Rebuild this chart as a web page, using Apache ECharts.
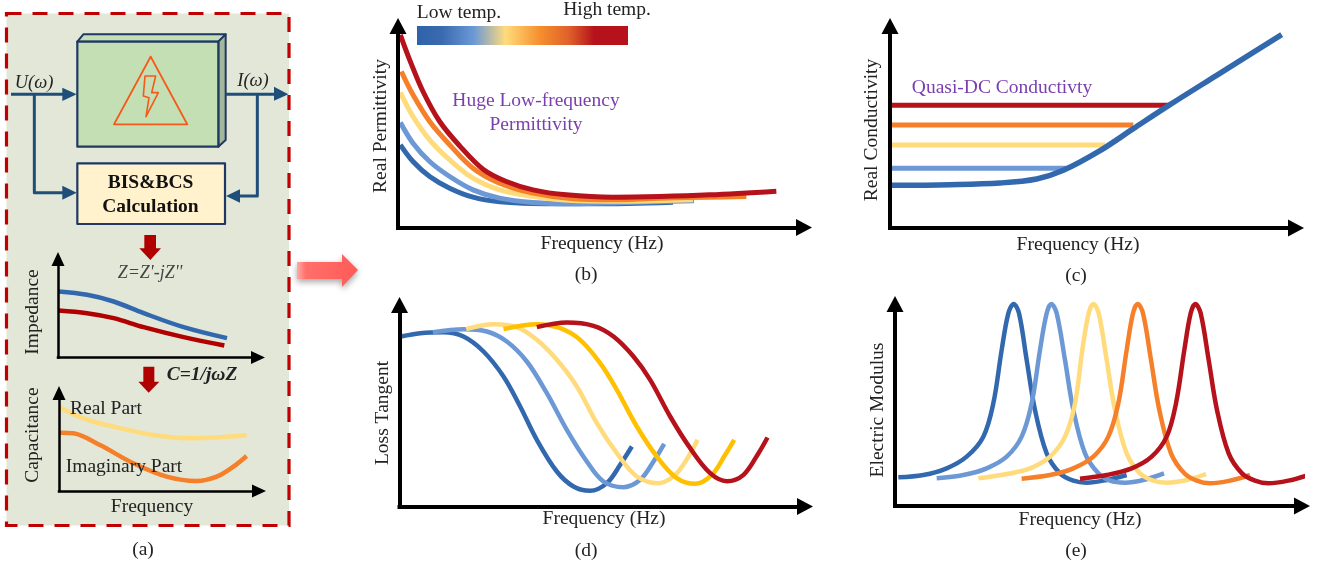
<!DOCTYPE html>
<html><head><meta charset="utf-8">
<style>html,body{margin:0;padding:0;background:#fff}#c{width:1317px;height:568px}</style>
<script src="https://cdn.jsdelivr.net/npm/echarts@6/dist/echarts.min.js"></script>
</head><body><div id="c"></div>
<script>
// ---- data: schematic curves, [frequency, response] in arbitrary units ----
const impedanceBlue=[[2,198],[87,188],[167,168],[257,133],[377,91],[507,58]];
const impedanceRed=[[2,141],[87,133],[167,118],[257,91],[377,61],[499,36]];
const capReal=[[0,253],[73,218],[163,193],[283,168],[403,158],[563,167]];
const capImag=[[3,175],[43,173],[123,138],[223,83],[323,43],[413,30],[473,43],[523,73],[563,105]];

const permRed=[[7,578],[35,503],[75,408],[125,318],[185,245],[255,175],[325,138],[405,113],[505,98],[645,91],[785,93],[935,98],[1135,109]];
const permOrange=[[10,468],[45,398],[95,318],[155,248],[225,178],[305,133],[405,103],[525,86],[645,83],[785,88],[935,91],[1045,93]];
const permYellow=[[7,405],[45,333],[95,263],[155,203],[225,148],[305,113],[405,93],[525,81],[685,79],[885,83]];
const permLight=[[7,315],[45,253],[95,198],[155,153],[225,113],[305,88],[405,75],[525,71],[685,75],[888,80]];
const permBlue=[[7,248],[45,198],[95,153],[155,118],[225,91],[305,77],[405,72],[585,71],[825,76]];

const condRed=[[5,368],[840,368]];
const condOrange=[[5,309],[730,309]];
const condYellow=[[5,249],[645,249]];
const condLight=[[5,179],[530,179]];
const condBlue=[[5,128],[180,130],[330,135],[440,147],[520,173],[630,232],[730,298],[840,370],[980,458],[1175,580]];

const lossBlue=[[4,510],[62,520],[132,523],[192,510],[252,465],[312,390],[362,300],[412,200],[472,105],[522,60],[572,47],[622,70],[662,125],[697,180]];
const lossLight=[[100,523],[192,532],[262,525],[322,495],[382,435],[442,340],[502,230],[562,135],[612,75],[672,58],[722,80],[762,135],[794,188]];
const lossYellow=[[200,532],[282,547],[352,538],[412,500],[472,440],[532,360],[592,250],[652,160],[712,90],[777,70],[827,95],[867,150],[894,200]];
const lossGold=[[312,532],[412,547],[482,535],[542,500],[602,430],[652,350],[712,240],[772,150],[832,85],[887,68],[937,95],[977,155],[1004,200]];
const lossRed=[[412,538],[502,552],[582,542],[642,510],[702,450],[752,380],[812,270],[872,175],[932,100],[982,76],[1032,95],[1077,160],[1104,207]];

const modBlue=[[10,86],[85,93],[155,113],[215,148],[265,208],[295,308],[320,468],[340,578],[356,606],[372,578],[395,438],[420,288],[455,158],[495,98],[535,76],[575,70],[635,78],[695,93]];
const modLight=[[125,83],[205,93],[275,113],[335,148],[380,208],[410,308],[435,468],[455,578],[469,606],[485,578],[510,438],[535,288],[570,158],[610,98],[645,76],[690,70],[745,78],[807,98]];
const modYellow=[[250,83],[335,96],[405,113],[465,148],[510,208],[540,308],[562,468],[581,578],[595,606],[611,578],[635,438],[660,288],[695,158],[735,98],[775,76],[815,70],[875,78],[933,96]];
const modOrange=[[380,82],[465,93],[535,113],[595,148],[640,208],[670,308],[695,468],[714,578],[728,606],[744,578],[768,438],[793,288],[828,158],[868,98],[905,76],[945,68],[1005,76],[1065,93]];
const modRed=[[555,82],[635,93],[710,113],[770,148],[815,208],[843,308],[868,468],[887,578],[901,606],[917,578],[941,438],[966,288],[1001,158],[1041,98],[1080,76],[1120,68],[1180,76],[1240,93]];

// ---- styling ----
const SERIF='"Liberation Serif","Times New Roman",serif';
const BLUE='#3268ad',LIGHT='#6c99d6',YEL='#ffdb7c',ORG='#f6802a',RED='#b5121b',GOLD='#ffc000';
const NAVY='#1f3864',ARW='#1f4e79',PURPLE='#7a3fae',DKRED='#b00000';
const FS=19.5;

const panels=[
 {ox:58,oy:357.5,tx:265,ty:252,aw:2.5,as:[13,14],xn:null,yn:['Impedance',33,312],
  s:[[impedanceBlue,BLUE,4.5],[impedanceRed,DKRED,4.5]]},
 {ox:59,oy:491,tx:266,ty:386,aw:2.5,as:[13,14],xn:['Frequency',152,507],yn:['Capacitance',33,435],
  s:[[capReal,YEL,4.5],[capImag,ORG,4.5]]},
 {ox:398,oy:227.5,tx:812,ty:18,aw:4,as:[17,16],xn:['Frequency (Hz)',602,244],yn:['Real Permittivity',381,126],
  s:[[permBlue,BLUE,5],[permLight,LIGHT,5],[permYellow,YEL,5],[permOrange,ORG,5],[permRed,RED,5]]},
 {ox:890,oy:228,tx:1304,ty:18,aw:4,as:[17,16],xn:['Frequency (Hz)',1078,245],yn:['Real Conductivity',872,130],
  s:[[condRed,RED,5],[condOrange,ORG,5],[condYellow,YEL,5],[condLight,LIGHT,5],[condBlue,BLUE,5.5]]},
 {ox:399.5,oy:506.5,tx:813,ty:297,aw:4,as:[17,16],xn:['Frequency (Hz)',604,519],yn:['Loss Tangent',383,413],
  s:[[lossBlue,BLUE,4.5],[lossLight,LIGHT,4.5],[lossYellow,YEL,4.5],[lossGold,GOLD,4.5],[lossRed,RED,4.5]]},
 {ox:895,oy:506,tx:1310,ty:296,aw:4,as:[17,16],xn:['Frequency (Hz)',1080,520],yn:['Electric Modulus',878,410],
  s:[[modBlue,BLUE,4.5],[modLight,LIGHT,4.5],[modYellow,YEL,4.5],[modOrange,ORG,4.5],[modRed,RED,4.5]]}
];

const grids=[],xAxes=[],yAxes=[],series=[];
panels.forEach((p,i)=>{
  const endX=p.tx-p.as[1]/2, endY=p.ty+p.as[1]/2;
  const w=endX-p.ox,h=p.oy-endY;
  grids.push({left:p.ox,top:endY,width:w,height:h});
  const line={onZero:false,symbol:['none','triangle'],symbolSize:p.as,lineStyle:{color:'#000',width:p.aw,cap:'square'}};
  const base={type:'value',gridIndex:i,axisLine:line,axisTick:{show:false},axisLabel:{show:false},splitLine:{show:false},z:5};
  const nameStyle=(pad)=>({fontFamily:SERIF,fontSize:FS,color:'#222',padding:pad});
  const xa=Object.assign({},base,{min:0,max:w*3,position:'bottom'});
  if(p.xn){
    const d=p.xn[1]-(p.ox+w/2);
    xa.name=p.xn[0];xa.nameLocation='middle';xa.nameGap=p.xn[2]-p.oy-FS/2;
    xa.nameTextStyle=nameStyle(d<0?[0,-2*d,0,0]:[0,0,0,2*d]);
  }
  const ya=Object.assign({},base,{min:0,max:h*3,position:'left'});
  const d=p.yn[2]-(endY+h/2);
  ya.name=p.yn[0];ya.nameLocation='middle';ya.nameGap=p.ox-p.yn[1]-FS/2;
  ya.nameTextStyle=nameStyle(d<0?[0,0,0,-2*d]:[0,2*d,0,0]);
  xAxes.push(xa);yAxes.push(ya);
  p.s.forEach(([data,color,width])=>series.push({type:'line',xAxisIndex:i,yAxisIndex:i,data,smooth:0.35,showSymbol:false,clip:false,
    lineStyle:{color,width,cap:'butt'},emphasis:{disabled:true},animation:false,z:3}));
});

// ---- schematic shapes & annotation text (pixel positions of the figure) ----
const g=[];
const poly=(pts,fill,stroke,lw,z)=>g.push({type:'polygon',z:z||1,shape:{points:pts.map(q=>[q[0]/3,q[1]/3])},style:{fill:fill||'none',stroke:stroke||'none',lineWidth:lw||0,lineJoin:'round'}});
const pl=(pts,color,lw)=>g.push({type:'polyline',z:1,shape:{points:pts.map(q=>[q[0]/3,q[1]/3])},style:{fill:'none',stroke:color,lineWidth:lw,lineJoin:'round'}});
const txt=(t,x,y,font,fill,z)=>g.push({type:'text',z:z||6,x:x,y:y,style:{text:t,x:0,y:0,align:'center',verticalAlign:'middle',font:font,fill:fill||'#222'}});

// panel (a) background
g.push({type:'rect',z:-2,shape:{x:6.5,y:13.5,width:282.5,height:512},style:{fill:'#e2e7d8',stroke:'#c00000',lineWidth:3.2,lineDash:[15,11]}});
// 3D box
poly([[232,125],[250,103],[677,103],[655,125]],'#c5dfb4',NAVY,2);
poly([[655,125],[677,103],[677,420],[655,440]],'#a3b89a',NAVY,2);
poly([[232,125],[655,125],[655,440],[232,440]],'#c5dfb4',NAVY,2.2);
// warning sign
poly([[452,170],[562,373],[342,373]],'none','#f5591a',1.9);
poly([[435,228],[467,228],[455,278],[475,278],[438,350],[447,293],[430,288]],'none','#f5591a',1.6);
// calc box
poly([[232,490],[675,490],[675,672],[232,672]],'#fff2cc',NAVY,2.2);
// signal lines
pl([[33,283],[195,283]],ARW,3);
poly([[187,263],[230,283],[187,303]],ARW);
pl([[103,283],[103,578],[195,578]],ARW,3);
poly([[187,557],[230,578],[187,599]],ARW);
pl([[677,283],[830,283]],ARW,3);
poly([[822,260],[865,283],[822,302]],ARW);
pl([[772,283],[772,588],[715,588]],ARW,3);
poly([[720,568],[678,588],[720,608]],ARW);
// red down arrows
poly([[433,705],[468,705],[468,745],[483,745],[451,780],[418,745],[433,745]],DKRED);
poly([[430,1100],[463,1100],[463,1145],[478,1145],[446,1178],[415,1145],[430,1145]],DKRED);
// big arrow between panels
g.push({type:'polygon',z:1,shape:{points:[[297,262],[342,262],[342,254],[358,270],[342,287],[342,279],[297,279]]},
  style:{fill:new echarts.graphic.LinearGradient(0,0,1,0,[{offset:0,color:'#ffa9a5'},{offset:0.15,color:'#ff6f6a'},{offset:1,color:'#ff5b57'}]),
  shadowBlur:6,shadowColor:'rgba(0,0,0,0.35)',shadowOffsetY:3}});
// temperature bar
g.push({type:'rect',z:1,shape:{x:417,y:26,width:211,height:19},style:{fill:new echarts.graphic.LinearGradient(0,0,1,0,[
 {offset:0,color:'#2f62aa'},{offset:0.12,color:'#3a6bb0'},{offset:0.27,color:'#6c99d6'},{offset:0.42,color:'#ffdb7c'},
 {offset:0.58,color:'#f6902e'},{offset:0.72,color:'#e0602a'},{offset:0.84,color:'#b5121b'},{offset:1,color:'#b5121b'}])}});

const T=s=>s+'px '+SERIF;
txt('U(ω)',34,83,'italic '+T(18.5));
txt('I(ω)',253,81,'italic '+T(18.5));
txt('BIS&BCS',150.5,183,'bold '+T(19.5),'#111');
txt('Calculation',150.5,207,'bold '+T(19.5),'#111');
txt("Z=Z'-jZ''",150,273,'italic '+T(18),'#444');
txt('C=1/jωZ',202,375,'italic bold '+T(19.5),'#222');
txt('Real Part',106,409,T(FS));
txt('Imaginary Part',124,467,T(FS));
txt('(a)',143,550,T(FS));
txt('(b)',586,275,T(FS));
txt('(c)',1076,276,T(FS));
txt('(d)',586,551,T(FS));
txt('(e)',1076,551,T(FS));
txt('Low temp.',459,13,T(FS));
txt('High temp.',607,10,T(FS));
txt('Huge Low-frequency',536,101,T(FS),PURPLE);
txt('Permittivity',536,125,T(FS),PURPLE);
txt('Quasi-DC Conductivty',1002,88,T(FS),PURPLE);

const chart=echarts.init(document.getElementById('c'),null,{renderer:'canvas'});
chart.setOption({animation:false,backgroundColor:'#fff',tooltip:{show:false},legend:{show:false},
  grid:grids,xAxis:xAxes,yAxis:yAxes,series:series,graphic:{elements:g}});
</script></body></html>
